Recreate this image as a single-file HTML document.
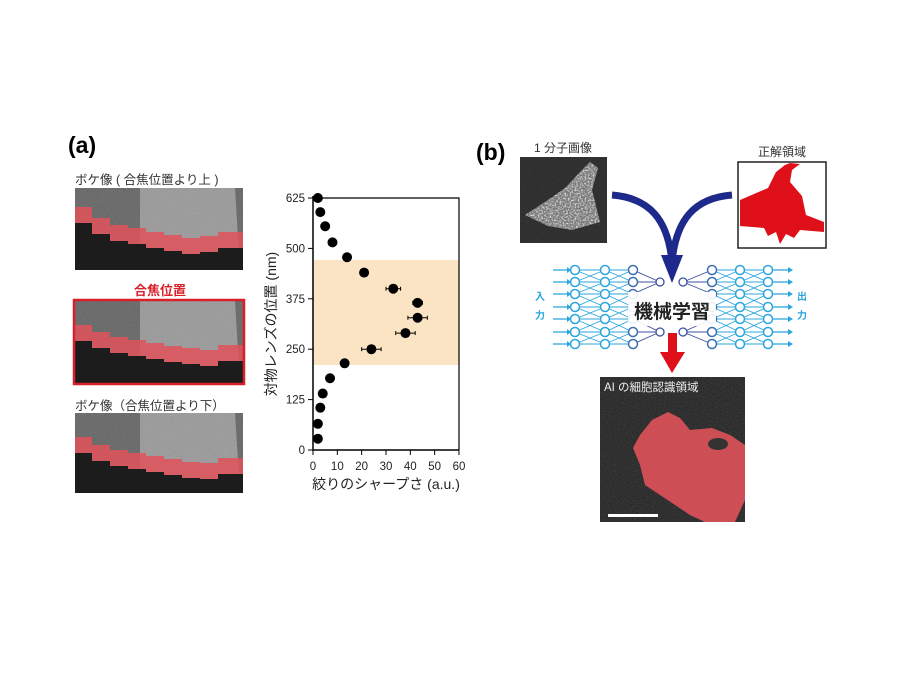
<!DOCTYPE html>
<html><head><meta charset="utf-8"><style>
html,body{margin:0;padding:0;background:#fff;}
svg text{font-family:"Liberation Sans","Noto Sans CJK JP",sans-serif;}
</style></head><body>
<svg id="s" width="900" height="675" viewBox="0 0 900 675" xmlns="http://www.w3.org/2000/svg">
<defs>
<filter id="nz" x="0" y="0" width="100%" height="100%"><feTurbulence type="fractalNoise" baseFrequency="0.9" numOctaves="2" seed="3"/><feColorMatrix type="matrix" values="0 0 0 0 1 0 0 0 0 1 0 0 0 0 1 0 0 0 1.2 -0.55"/></filter>
<filter id="nz2" x="0" y="0" width="100%" height="100%"><feTurbulence type="fractalNoise" baseFrequency="0.6" numOctaves="2" seed="7"/><feColorMatrix type="matrix" values="0 0 0 0 1 0 0 0 0 1 0 0 0 0 1 0 0 0 2.2 -0.9"/></filter>
<clipPath id="cell"><path d="M525 215 L548 200 L565 188 L580 172 L590 162 L598 168 L592 190 L600 222 L572 230 L548 226 Z"/></clipPath>
</defs>
<rect width="900" height="675" fill="#fff"/>
<text x="68" y="153" font-size="23" font-weight="bold">(a)</text>
<text x="75" y="184" font-size="12.5" fill="#333">ボケ像 ( 合焦位置より上 )</text>
<g id="img1"></g>
<text x="160" y="295" font-size="13" font-weight="bold" fill="#d9202a" text-anchor="middle">合焦位置</text>
<rect x="74" y="300" width="170" height="84" fill="none" stroke="#d9202a" stroke-width="2.5"/>
<text x="75" y="410" font-size="12.5" fill="#333">ボケ像（合焦位置より下）</text>
<rect x="313" y="260" width="146" height="105" fill="#fbe4c4"/>
<path d="M313 198 H459 V450" fill="none" stroke="#000" stroke-width="1.2"/>
<path d="M313 196 V450 H459" fill="none" stroke="#000" stroke-width="1.5"/>
<g id="ticks" font-size="11.5" fill="#222"></g>
<text transform="translate(276,324) rotate(-90)" font-size="14" text-anchor="middle" fill="#222">対物レンズの位置 (nm)</text>
<text x="386" y="489" font-size="14" text-anchor="middle" fill="#222">絞りのシャープさ (a.u.)</text>
<g id="pts"></g>
<text x="476" y="160" font-size="23" font-weight="bold">(b)</text>
<text x="563" y="152" font-size="12" text-anchor="middle" fill="#333">1 分子画像</text>
<text x="782" y="156" font-size="12" text-anchor="middle" fill="#333">正解領域</text>
<g id="bimgs"></g>
<rect x="738" y="162" width="88" height="86" fill="#fff" stroke="#222" stroke-width="1.5"/>
<path d="M740 200 L768 188 L776 172 L785 165 L790 163 L800 164 L792 170 L790 182 L802 196 L806 215 L824 222 L824 232 L800 230 L794 238 L786 234 L780 244 L776 232 L768 236 L764 228 L740 226 Z" fill="#e0101a"/>
<g id="net"></g>
<path d="M612 195 C650 198 668 220 672 262" fill="none" stroke="#1d2a8c" stroke-width="7"/>
<path d="M732 195 C694 198 676 220 672 262" fill="none" stroke="#1d2a8c" stroke-width="7"/>
<polygon points="661,255 683,255 672,283" fill="#1d2a8c"/>
<rect x="628" y="292" width="88" height="34" fill="#fff" opacity="0.9"/>
<text x="672" y="318" font-size="19" font-weight="bold" text-anchor="middle" fill="#222">機械学習</text>
<text x="540" y="300" font-size="10" font-weight="bold" fill="#2aa5de" text-anchor="middle">入</text>
<text x="540" y="319" font-size="10" font-weight="bold" fill="#2aa5de" text-anchor="middle">力</text>
<text x="802" y="300" font-size="10" font-weight="bold" fill="#2aa5de" text-anchor="middle">出</text>
<text x="802" y="319" font-size="10" font-weight="bold" fill="#2aa5de" text-anchor="middle">力</text>
<rect x="668" y="333" width="9" height="20" fill="#e0101a"/>
<polygon points="660,352 685,352 672,373" fill="#e0101a"/>
<g id="bot"></g>
</svg>
<script>
var NS="http://www.w3.org/2000/svg";
function el(p,t,a){var e=document.createElementNS(NS,t);for(var k in a)e.setAttribute(k,a[k]);p.appendChild(e);return e;}
function g(id){return document.getElementById(id);}
function micro(y0,h,steps){
 var G=g('img1');
 el(G,'rect',{x:75,y:y0,width:168,height:h,fill:'#6a6a6a'});
 el(G,'path',{d:'M140 '+y0+' L235 '+y0+' L240 '+(y0+h)+' L140 '+(y0+h)+' Z',fill:'#9a9a9a'});
 el(G,'rect',{x:75,y:y0,width:168,height:h,fill:'#fff',filter:'url(#nz)',opacity:0.25});
 var xs=[75,92,110,128,146,164,182,200,218,243];
 var top='';
 for(var i=0;i<xs.length-1;i++){var t=steps[i];top+=(i==0?'M':'L')+xs[i]+' '+t+' L'+xs[i+1]+' '+t+' ';}
 var dark='M75 '+(y0+h)+' ';
 for(var i=0;i<xs.length-1;i++){var t=steps[i]+16;dark+='L'+xs[i]+' '+t+' L'+xs[i+1]+' '+t+' ';}
 dark+='L243 '+(y0+h)+' Z';
 var band=top;
 for(var i=xs.length-2;i>=0;i--){var t=steps[i]+16;band+='L'+xs[i+1]+' '+t+' L'+xs[i]+' '+t+' ';}
 band+='Z';
 el(G,'path',{d:dark,fill:'#1c1c1c'});
 el(G,'path',{d:band,fill:'#e0525a',opacity:0.85});
}
micro(188,82,[207,218,225,228,232,235,238,236,232]);
micro(301,82,[325,332,337,340,343,346,348,350,345]);
micro(413,80,[437,445,450,453,456,459,462,463,458]);
var T=g('ticks');
[0,125,250,375,500,625].forEach(function(v){var y=450-v*0.4032;el(T,'line',{x1:308,x2:313,y1:y,y2:y,stroke:'#000'});var t=el(T,'text',{x:305,y:y+4,'text-anchor':'end'});t.textContent=v;});
[0,10,20,30,40,50,60].forEach(function(v){var x=313+v*2.433;el(T,'line',{x1:x,x2:x,y1:450,y2:455,stroke:'#000'});var t=el(T,'text',{x:x,y:470,'text-anchor':'middle'});t.textContent=v;});
var P=g('pts');
[[2,625,0],[3,590,0],[5,555,0],[8,515,0],[14,478,0],[21,440,1],[33,400,3],[43,365,2],[43,328,4],[38,290,4],[24,250,4],[13,215,0],[7,178,0],[4,140,0],[3,105,0],[2,65,0],[2,28,0]].forEach(function(p){
 var x=313+p[0]*2.433,y=450-p[1]*0.4032,e=p[2]*2.433;
 if(e){el(P,'line',{x1:x-e,x2:x+e,y1:y,y2:y,stroke:'#000'});el(P,'line',{x1:x-e,x2:x-e,y1:y-2,y2:y+2,stroke:'#000'});el(P,'line',{x1:x+e,x2:x+e,y1:y-2,y2:y+2,stroke:'#000'});}
 el(P,'circle',{cx:x,cy:y,r:5,fill:'#000'});
});
var B=g('bimgs');
el(B,'rect',{x:520,y:157,width:87,height:86,fill:'#2e2e2e'});
el(B,'rect',{x:520,y:157,width:87,height:86,fill:'#fff',filter:'url(#nz)',opacity:0.15});
var cg=el(B,'g',{'clip-path':'url(#cell)'});
el(cg,'rect',{x:520,y:157,width:87,height:86,fill:'#777'});
el(cg,'rect',{x:520,y:157,width:87,height:86,fill:'#fff',filter:'url(#nz2)',opacity:0.9});
var N=g('net');var rows=[270,282,294,307,319,332,344];
var cl='#2aa5de';
function conn(xa,xb,ra,rb,c,w,d){ra.forEach(function(a){rb.forEach(function(b){if(Math.abs(a-b)<=d)el(N,'line',{x1:xa,y1:a,x2:xb,y2:b,stroke:c,'stroke-width':w});});});}
conn(575,605,rows,rows,cl,0.9,13);conn(605,633,rows,rows,cl,0.9,13);
conn(740,768,rows,rows,cl,0.9,13);conn(712,740,rows,rows,cl,0.9,13);
conn(633,660,[270,282,294],[282],'#3b4fa0',0.9,30);conn(633,660,[319,332,344],[332],'#3b4fa0',0.9,30);
conn(683,712,[282],[270,282,294],'#3b4fa0',0.9,30);conn(683,712,[332],[319,332,344],'#3b4fa0',0.9,30);
rows.forEach(function(y){
 el(N,'line',{x1:553,y1:y,x2:570,y2:y,stroke:cl,'stroke-width':1.2});el(N,'polygon',{points:'567,'+(y-3)+' 571,'+y+' 567,'+(y+3),fill:cl});
 el(N,'line',{x1:773,y1:y,x2:790,y2:y,stroke:cl,'stroke-width':1.2});el(N,'polygon',{points:'788,'+(y-3)+' 793,'+y+' 788,'+(y+3),fill:cl});
 [575,605,740,768].forEach(function(x){el(N,'circle',{cx:x,cy:y,r:4.5,fill:'#fff',stroke:cl,'stroke-width':1.5});});
 [633,712].forEach(function(x){el(N,'circle',{cx:x,cy:y,r:4.5,fill:'#fff',stroke:'#3b6fb0','stroke-width':1.5});});
});
[660,683].forEach(function(x){[282,332].forEach(function(y){el(N,'circle',{cx:x,cy:y,r:4,fill:'#fff',stroke:'#3b4fa0','stroke-width':1.3});});});
var BB=g('bot');
el(BB,'rect',{x:600,y:377,width:145,height:145,fill:'#2c2c2c'});
el(BB,'rect',{x:600,y:377,width:145,height:145,fill:'#fff',filter:'url(#nz)',opacity:0.25});
el(BB,'path',{d:'M652 420 L668 412 L680 418 L690 430 L712 428 L730 435 L745 445 L745 500 L735 522 L705 522 L690 515 L675 505 L660 495 L645 485 L640 465 L633 448 L640 435 Z',fill:'#e0525a',opacity:0.9});
el(BB,'ellipse',{cx:718,cy:444,rx:10,ry:6,fill:'#333'});
el(BB,'rect',{x:608,y:514,width:50,height:3,fill:'#fff'});
var t=el(BB,'text',{x:604,y:391,'font-size':11.5,fill:'#eee'});t.textContent='AI の細胞認識領域';
</script>
</body></html>
